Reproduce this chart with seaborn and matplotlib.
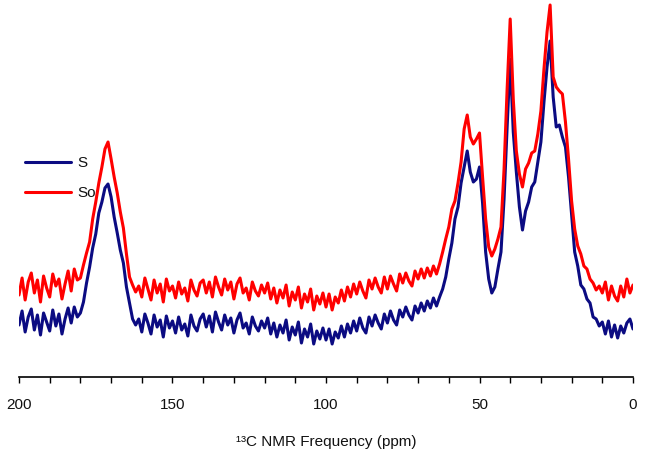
import numpy as np
import pandas as pd
import seaborn as sns
import matplotlib
matplotlib.use("Agg")
import matplotlib.pyplot as plt
from matplotlib.ticker import MultipleLocator

# chemical shift axis (ppm), 200 -> 0
ppm = list(range(200, -1, -1))

# intensity (arbitrary units), ppm 200 -> 0
s_vals = [
    52, 66, 45, 60, 68, 47, 62, 42, 64, 55, 46, 67, 51, 63, 43, 58, 69, 54, 70, 60,
    64, 75, 94, 110, 129, 143, 164, 175, 189, 193, 180, 160, 144, 127, 114, 90, 74, 58, 52,
    58, 45, 63, 54, 43, 62, 50, 57, 40, 61, 49, 56, 44, 60, 47, 53, 41, 62, 51, 46, 58,
    63, 50, 61, 45, 65, 55, 47, 62, 52, 59, 44, 57, 64, 49, 54, 43, 60, 51, 46, 56,
    49, 59, 43, 54, 40, 52, 44, 57, 37, 50, 42, 55, 34, 48, 40, 53, 33, 46, 38, 49,
    37, 48, 33, 45, 39, 51, 40, 53, 44, 56, 46, 59, 49, 44, 60, 51, 62, 54, 48, 63,
    54, 66, 57, 52, 67, 60, 70, 62, 57, 71, 64, 74, 66, 76, 69, 79, 71, 80,
    88, 100, 118, 134, 158, 170, 194, 210, 226, 205, 195, 198, 210, 174, 125, 98, 84, 90, 108, 125,
    178, 250, 318, 245, 205, 170, 147, 166, 175, 190, 195, 215, 235, 275, 310, 336, 280, 250, 252, 240,
    230, 200, 163, 125, 111, 92, 88, 78, 74, 60, 58, 51,
    55, 43, 56, 40, 52, 39, 51, 44, 54, 58, 48,
]
so_vals = [
    82, 99, 77, 95, 104, 84, 97, 75, 101, 89, 80, 103, 91, 98, 78, 93, 106, 86, 108, 97,
    99, 112, 124, 135, 158, 175, 194, 210, 228, 235, 218, 200, 184, 165, 149, 123, 100, 92, 85,
    91, 80, 99, 88, 77, 97, 84, 93, 75, 98, 86, 91, 79, 95, 83, 89, 76, 97, 87, 81, 94,
    97, 84, 95, 80, 100, 90, 82, 98, 87, 95, 78, 93, 99, 84, 89, 77, 95, 86, 81, 92,
    84, 94, 78, 89, 74, 87, 79, 92, 71, 85, 77, 90, 69, 83, 75, 88, 67, 81, 73, 84,
    70, 83, 67, 80, 74, 87, 76, 90, 80, 93, 83, 95, 86, 79, 97, 88, 99, 90, 84, 100,
    88, 101, 93, 86, 103, 94, 104, 96, 91, 106, 98, 108, 99, 109, 101, 111, 103, 113,
    125, 138, 150, 168, 176, 194, 215, 248, 262, 240, 233, 238, 244, 200, 158, 130, 121, 128, 138, 150,
    208, 288, 358, 278, 226, 203, 190, 208, 214, 224, 226, 243, 266, 308, 345, 372, 300, 290, 286, 283,
    255, 218, 176, 148, 131, 123, 111, 108, 98, 94, 87, 91,
    84, 95, 77, 91, 81, 76, 91, 80, 98, 84, 92,
]
series_names = ["S", "So"]
series_colors = ["#0b0b82", "#ff0000"]

df = pd.concat([
    pd.DataFrame({"ppm": ppm, "intensity": s_vals, "sample": series_names[0]}),
    pd.DataFrame({"ppm": ppm, "intensity": so_vals, "sample": series_names[1]}),
])

sns.set_style("white")
plt.rcParams["font.family"] = ["Liberation Sans", "DejaVu Sans"]
plt.rcParams["text.color"] = "#111111"
plt.rcParams["xtick.color"] = "#111111"

fig = plt.figure(figsize=(6.45, 4.59), dpi=100)
ax = fig.add_axes([19 / 645, (459 - 377) / 459, (633 - 19) / 645, 377 / 459])

sns.lineplot(data=df, x="ppm", y="intensity", hue="sample",
             palette=dict(zip(series_names, series_colors)),
             linewidth=2.2, ax=ax, sort=False, estimator=None)

ax.set_xlim(200, 0)
ax.set_ylim(0, 377)
for side in ["top", "left", "right"]:
    ax.spines[side].set_visible(False)
ax.spines["bottom"].set_linewidth(1.2)
ax.spines["bottom"].set_color("black")
ax.set_yticks([])
ax.set_ylabel("")
ax.xaxis.set_major_locator(MultipleLocator(50))
ax.xaxis.set_minor_locator(MultipleLocator(10))
ax.tick_params(axis="x", which="both", direction="out", length=4, width=1,
               color="black", bottom=True, pad=11, labelsize=11, labelcolor="#111111")
ax.set_xlabel("¹³C NMR Frequency (ppm)", fontsize=11, labelpad=17, color="#111111")

leg = ax.legend(loc="upper left", bbox_to_anchor=(0.0, 0.602), frameon=False,
                fontsize=11, handlelength=3.0, handletextpad=0.4,
                labelspacing=1.05, borderaxespad=0.0)
for line in leg.get_lines():
    line.set_linewidth(2.2)
for t in leg.get_texts():
    t.set_color("#111111")

fig.savefig("out.png", dpi=100)
